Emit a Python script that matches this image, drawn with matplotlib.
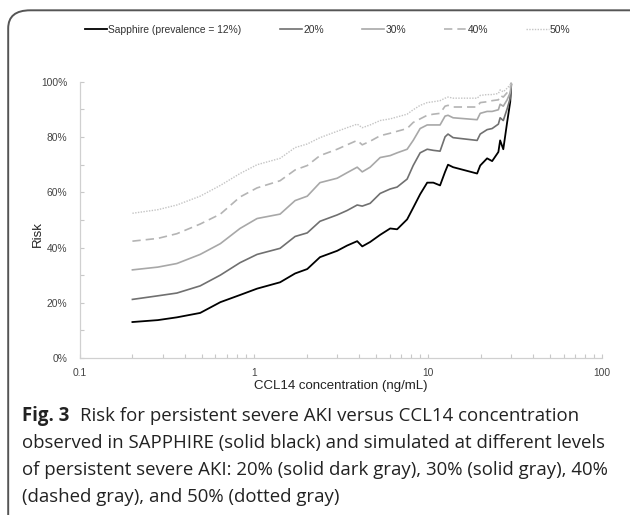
import numpy as np
import matplotlib.pyplot as plt
from matplotlib.patches import FancyBboxPatch
from matplotlib.ticker import FixedLocator, NullFormatter, LogLocator

# CCL14 concentration (ng/mL) at the sampled points
conc = [0.20, 0.28, 0.36, 0.49, 0.64, 0.83, 1.04, 1.41, 1.72, 2.02, 2.39,
        3.00, 3.42, 3.91, 4.18, 4.64, 5.30, 6.05, 6.63, 7.57, 8.20, 8.99,
        9.87, 10.7, 11.7, 12.5, 13.0, 13.9, 19.1, 19.9, 21.8, 23.3, 25.3,
        25.9, 27.0, 28.4, 29.6, 30.0]

# risk (%) observed in SAPPHIRE, prevalence 12%
risk_12 = [13.0, 13.7, 14.7, 16.3, 20.2, 22.8, 25.1, 27.4, 30.6, 32.2, 36.5,
           38.8, 40.7, 42.3, 40.4, 42.0, 44.6, 46.9, 46.6, 50.2, 54.4, 59.3,
           63.5, 63.5, 62.5, 67.4, 70.0, 69.1, 66.8, 69.7, 72.3, 71.3, 74.6,
           78.8, 75.6, 85.3, 92.8, 99.0]

# simulated prevalence levels
risk_20 = [21.2, 22.5, 23.5, 26.1, 30.0, 34.5, 37.5, 39.7, 44.0, 45.3, 49.5,
           51.8, 53.4, 55.4, 55.0, 56.0, 59.6, 61.2, 61.9, 64.8, 69.7, 74.3,
           75.6, 75.2, 74.9, 80.1, 81.1, 79.8, 78.8, 81.1, 82.7, 83.1, 84.7,
           87.0, 86.0, 90.2, 94.1, 99.0]
risk_30 = [31.9, 32.9, 34.2, 37.5, 41.4, 46.9, 50.5, 52.1, 57.0, 58.6, 63.5,
           65.1, 67.1, 69.1, 67.4, 69.1, 72.6, 73.3, 74.3, 75.6, 78.8, 83.1,
           84.4, 84.4, 84.4, 87.6, 87.9, 87.0, 86.3, 88.6, 89.3, 89.3, 89.9,
           91.9, 91.2, 93.5, 96.1, 99.3]
risk_40 = [42.3, 43.3, 45.0, 48.5, 52.1, 58.3, 61.6, 64.2, 68.1, 69.7, 73.3,
           75.6, 77.2, 78.8, 77.2, 78.5, 80.5, 81.4, 82.1, 83.1, 85.3, 86.6,
           87.9, 88.3, 88.6, 91.2, 91.5, 90.9, 90.9, 92.5, 92.8, 93.2, 93.5,
           95.1, 94.5, 96.1, 97.7, 99.7]
risk_50 = [52.4, 53.7, 55.4, 58.6, 62.5, 66.8, 70.0, 72.3, 76.2, 77.5, 79.8,
           82.1, 83.4, 84.7, 83.4, 84.4, 86.0, 86.6, 87.3, 88.3, 89.9, 91.5,
           92.5, 92.8, 93.2, 94.1, 94.5, 94.1, 94.1, 95.1, 95.4, 95.4, 95.8,
           97.1, 96.4, 97.7, 99.0, 100.0]

labels = ["Sapphire (prevalence = 12%)", "20%", "30%", "40%", "50%"]

plt.rcParams['font.family'] = ['Liberation Sans', 'DejaVu Sans']

fig = plt.figure(figsize=(6.3, 5.15), dpi=100)
ax = fig.add_axes([0.127, 0.305, 0.829, 0.536])

c = np.array(conc)
ax.plot(c, np.array(risk_12) / 100, color='black', lw=1.3, label=labels[0])
ax.plot(c, np.array(risk_20) / 100, color='#707070', lw=1.2, label=labels[1])
ax.plot(c, np.array(risk_30) / 100, color='#a8a8a8', lw=1.2, label=labels[2])
ax.plot(c, np.array(risk_40) / 100, color='#b4b4b4', lw=1.2,
        dashes=(5, 3), label=labels[3])
ax.plot(c, np.array(risk_50) / 100, color='#c4c4c4', lw=1.0,
        linestyle=(0, (1, 1)), label=labels[4])

ax.set_xscale('log')
ax.set_xlim(0.1, 100)
ax.set_ylim(0, 1)
ax.xaxis.set_major_locator(FixedLocator([0.1, 1, 10, 100]))
ax.set_xticklabels(['0.1', '1', '10', '100'])
ax.xaxis.set_minor_locator(LogLocator(base=10, subs=np.arange(2, 10)))
ax.xaxis.set_minor_formatter(NullFormatter())
ax.set_yticks(np.arange(0, 1.01, 0.2))
ax.set_yticklabels(['0%', '20%', '40%', '60%', '80%', '100%'])
ax.set_yticks(np.arange(0.1, 1.0, 0.2), minor=True)

for side in ['top', 'right']:
    ax.spines[side].set_visible(False)
for side in ['left', 'bottom']:
    ax.spines[side].set_color('#d0d0d0')
    ax.spines[side].set_linewidth(0.9)
ax.tick_params(which='both', direction='in', color='#c8c8c8',
               labelsize=7.4, labelcolor='#444444', length=3, width=0.8)
ax.tick_params(axis='y', pad=9)
ax.tick_params(axis='x', pad=7)

ax.set_xlabel('CCL14 concentration (ng/mL)', fontsize=9.5, color='#222222',
              labelpad=2)
ax.set_ylabel('Risk', fontsize=9.5, color='#222222')
ax.yaxis.set_label_coords(-0.07, 0.45)

fig.legend(loc='upper center', bbox_to_anchor=(0.52, 0.97), ncol=5,
           frameon=False, fontsize=7.4, handlelength=2.2, handletextpad=0.1,
           columnspacing=3.7, labelcolor='#333333')

# caption under the chart
cap_kw = dict(fontsize=13.4, family=['Open Sans', 'DejaVu Sans'],
              color='#222222', va='center', ha='left')
fig.canvas.draw()
fig_lbl = fig.text(0.035, 0.192, 'Fig. 3', fontweight='bold', **cap_kw)
bb = fig_lbl.get_window_extent(fig.canvas.get_renderer())
x_after = bb.x1 / fig.bbox.width + 0.016
fig.text(x_after, 0.192,
         'Risk for persistent severe AKI versus CCL14 concentration', **cap_kw)
fig.text(0.035, 0.139,
         'observed in SAPPHIRE (solid black) and simulated at different levels',
         **cap_kw)
fig.text(0.035, 0.087,
         'of persistent severe AKI: 20% (solid dark gray), 30% (solid gray), 40%',
         **cap_kw)
fig.text(0.035, 0.035, '(dashed gray), and 50% (dotted gray)', **cap_kw)

# rounded frame around the figure
frame = FancyBboxPatch((0.013, -0.05), 1.05, 1.03,
                       boxstyle='round,pad=0,rounding_size=0.035',
                       transform=fig.transFigure, fill=False,
                       edgecolor='#555555', lw=1.4, clip_on=False)
fig.patches.append(frame)

fig.savefig('out.png', dpi=100)
